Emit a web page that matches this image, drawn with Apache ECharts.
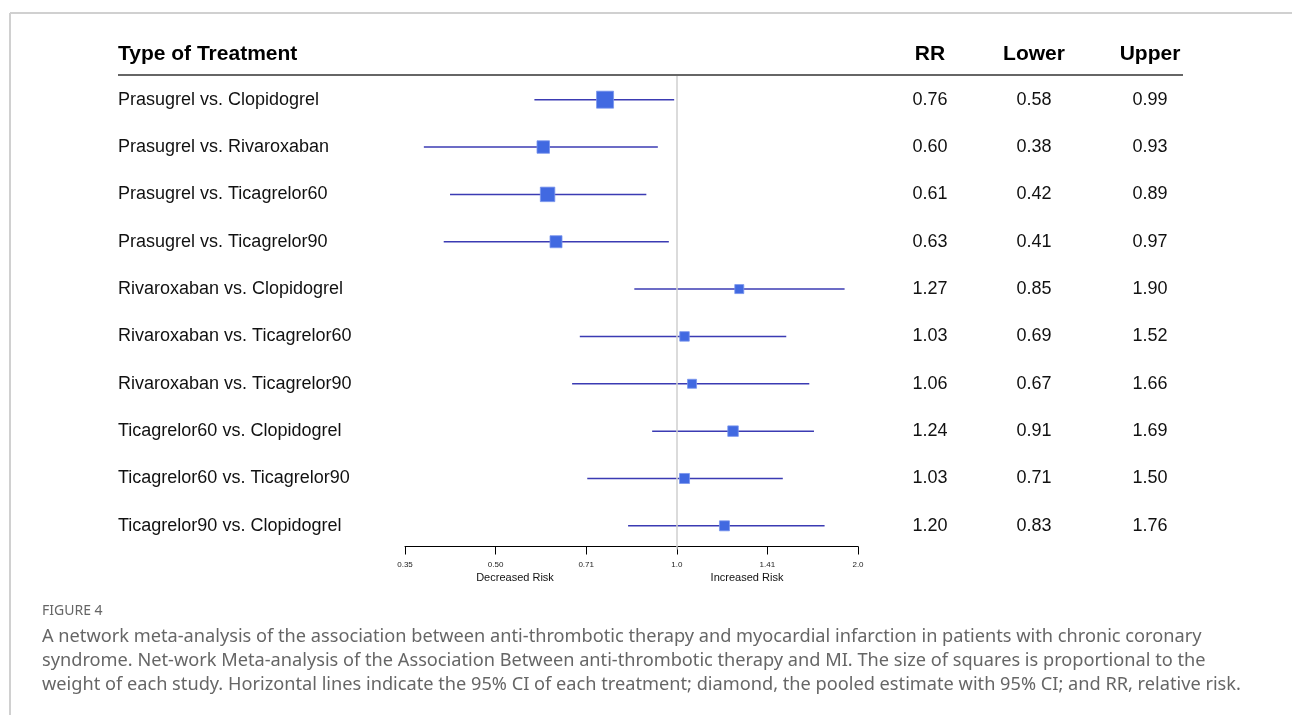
<!DOCTYPE html>
<html><head><meta charset="utf-8">
<script src="https://cdn.jsdelivr.net/npm/echarts@6/dist/echarts.min.js"></script>
<style>html,body{margin:0;padding:0;background:#fff}#c{width:1292px;height:715px}</style>
</head><body><div id="c"></div>
<script>
const treatments = [
  'Prasugrel vs. Clopidogrel',
  'Prasugrel vs. Rivaroxaban',
  'Prasugrel vs. Ticagrelor60',
  'Prasugrel vs. Ticagrelor90',
  'Rivaroxaban vs. Clopidogrel',
  'Rivaroxaban vs. Ticagrelor60',
  'Rivaroxaban vs. Ticagrelor90',
  'Ticagrelor60 vs. Clopidogrel',
  'Ticagrelor60 vs. Ticagrelor90',
  'Ticagrelor90 vs. Clopidogrel'
];
const rr    = [0.76, 0.60, 0.61, 0.63, 1.27, 1.03, 1.06, 1.24, 1.03, 1.20];
const lower = [0.58, 0.38, 0.42, 0.41, 0.85, 0.69, 0.67, 0.91, 0.71, 0.83];
const upper = [0.99, 0.93, 0.89, 0.97, 1.90, 1.52, 1.66, 1.69, 1.50, 1.76];
// relative study weights (estimated from square sizes)
const weights = [17, 12.5, 14.5, 12, 9, 9.5, 9, 10.5, 10, 10];
const tickLabels = ['0.35', '0.50', '0.71', '1.0', '1.41', '2.0'];
const headers = ['Type of Treatment', 'RR', 'Lower', 'Upper'];
const sideLabels = ['Decreased Risk', 'Increased Risk'];
const figLabel = 'FIGURE 4';
const caption = [
  'A network meta-analysis of the association between anti-thrombotic therapy and myocardial infarction in patients with chronic coronary',
  'syndrome. Net-work Meta-analysis of the Association Between anti-thrombotic therapy and MI. The size of squares is proportional to the',
  'weight of each study. Horizontal lines indicate the 95% CI of each treatment; diamond, the pooled estimate with 95% CI; and RR, relative risk.'
];

const FONT = '"Liberation Sans", Arial, sans-serif';
const CAPFONT = '"Noto Sans", sans-serif';
const chart = echarts.init(document.getElementById('c'), null, {renderer: 'canvas'});

const seriesData = treatments.map((t, i) => [i, lower[i], upper[i], rr[i], weights[i]]);
const fmt = a => a.map(v => v.toFixed(2));

function colAxis(data, margin) {
  return {
    type: 'category', gridIndex: 0, data: data, inverse: true, position: 'right',
    axisLine: {show: false}, axisTick: {show: false}, splitLine: {show: false},
    axisLabel: {align: 'center', margin: margin, fontSize: 18, color: '#111', fontFamily: FONT}
  };
}

const graphics = [
  {type: 'line', shape: {x1: 10, y1: 13, x2: 1292, y2: 13}, style: {stroke: '#d0d0d0', lineWidth: 2}},
  {type: 'line', shape: {x1: 10, y1: 13, x2: 10, y2: 715}, style: {stroke: '#d0d0d0', lineWidth: 2}},
  {type: 'line', shape: {x1: 118, y1: 75, x2: 1183, y2: 75}, style: {stroke: '#333', lineWidth: 1.5}, z: 5},
  {type: 'text', x: 118, y: 54, style: {text: headers[0], font: 'bold 21px ' + FONT, fill: '#000', verticalAlign: 'middle'}},
  {type: 'text', x: 930, y: 54, style: {text: headers[1], font: 'bold 21px ' + FONT, fill: '#000', align: 'center', verticalAlign: 'middle'}},
  {type: 'text', x: 1034, y: 54, style: {text: headers[2], font: 'bold 21px ' + FONT, fill: '#000', align: 'center', verticalAlign: 'middle'}},
  {type: 'text', x: 1150, y: 54, style: {text: headers[3], font: 'bold 21px ' + FONT, fill: '#000', align: 'center', verticalAlign: 'middle'}},
  {type: 'text', x: 515, y: 578, style: {text: sideLabels[0], font: '11px ' + FONT, fill: '#111', align: 'center', verticalAlign: 'middle'}},
  {type: 'text', x: 747, y: 578, style: {text: sideLabels[1], font: '11px ' + FONT, fill: '#111', align: 'center', verticalAlign: 'middle'}},
  {type: 'text', x: 42, y: 611, style: {text: figLabel, font: '14px ' + CAPFONT, fill: '#666', verticalAlign: 'middle'}}
];
caption.forEach((line, i) => {
  graphics.push({type: 'text', x: 42, y: 637 + i * 24,
    style: {text: line, font: '18.2px ' + CAPFONT, fill: '#666', verticalAlign: 'middle'}});
});

const option = {
  animation: false,
  backgroundColor: '#fff',
  grid: {left: 405, right: 434, top: 76, bottom: 165.5, containLabel: false},
  xAxis: {
    type: 'log', logBase: Math.SQRT2,
    min: Math.pow(2, -1.5), max: 2,
    offset: -3,
    axisLine: {show: true, lineStyle: {color: '#000', width: 1}},
    axisTick: {show: true, length: 8, lineStyle: {color: '#000', width: 1}},
    splitLine: {show: false},
    axisLabel: {
      fontSize: 8, color: '#222', fontFamily: FONT, margin: 14,
      formatter: v => tickLabels[Math.round(Math.log2(v) * 2) + 3]
    }
  },
  yAxis: [
    {
      type: 'category', data: treatments, inverse: true,
      axisLine: {show: false}, axisTick: {show: false}, splitLine: {show: false},
      axisLabel: {align: 'left', margin: 287, fontSize: 18, color: '#111', fontFamily: FONT}
    },
    colAxis(fmt(rr), 72),
    colAxis(fmt(lower), 176),
    colAxis(fmt(upper), 292)
  ],
  series: [{
    type: 'custom',
    xAxisIndex: 0, yAxisIndex: 0,
    data: seriesData,
    encode: {x: [1, 2, 3], y: 0},
    renderItem: function (params, api) {
      const yi = api.value(0);
      const lo = api.coord([api.value(1), yi]);
      const hi = api.coord([api.value(2), yi]);
      const c = api.coord([api.value(3), yi]);
      const s = api.value(4);
      return {
        type: 'group',
        children: [
          {type: 'line', shape: {x1: lo[0], y1: lo[1], x2: hi[0], y2: hi[1]},
           style: {stroke: '#3b3bb3', lineWidth: 1.5}},
          {type: 'rect', shape: {x: c[0] - s / 2, y: c[1] - s / 2, width: s, height: s},
           style: {fill: '#4169E1', stroke: '#7a95ee', lineWidth: 0.8}}
        ]
      };
    },
    markLine: {
      silent: true, symbol: 'none', label: {show: false},
      lineStyle: {color: '#cfcfcf', width: 1.5, type: 'solid'},
      data: [{xAxis: 1}]
    },
    z: 3
  }],
  graphic: graphics
};
chart.setOption(option);
</script>
</body></html>
